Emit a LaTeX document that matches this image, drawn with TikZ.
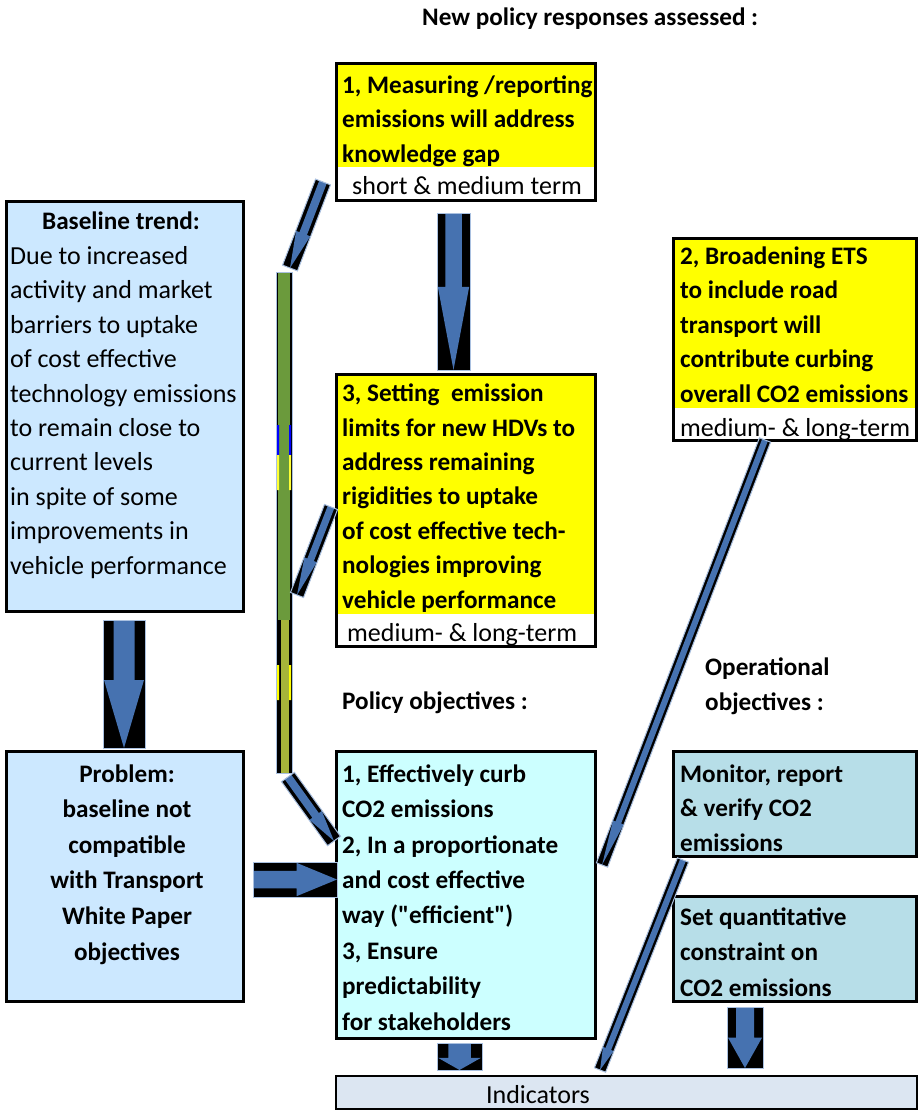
\documentclass[tikz,border=0pt]{standalone}
\usepackage{fontspec}
\setmainfont{Carlito}[Ligatures=TeXOff]
\usetikzlibrary{calc}
\definecolor{ylw}{HTML}{FFFF00}
\definecolor{baseblue}{HTML}{CCE8FF}
\definecolor{objcyan}{HTML}{CCFFFF}
\definecolor{opblue}{HTML}{B7DEE8}
\definecolor{indgrey}{HTML}{DCE6F2}
\definecolor{arrowblue}{HTML}{4672B0}
\definecolor{arrowedge}{HTML}{A9C0E0}
\definecolor{bargreen}{HTML}{6B9A3C}
\definecolor{baryellow}{HTML}{A6B43A}
\definecolor{barblue}{HTML}{0000FF}
\tikzset{
  box/.style={draw=black, line width=3pt, inner sep=0pt, anchor=north west},
  txt/.style={font=\fontsize{26}{34.4}\selectfont, inner sep=0pt, align=left, anchor=base west},
  btxt/.style={txt, font=\fontsize{25.2}{34.4}\selectfont\bfseries},
}
% block arrow: from, to, half width, start of head (fraction)
\newcommand{\blockarrow}[4]{%
  \path let \p1=#1, \p2=#2 in \pgfextra{%
    \pgfmathsetmacro\barang{atan2(\y2-\y1,\x2-\x1)}%
    \pgfmathsetmacro\barlen{veclen(\x2-\x1,\y2-\y1)}%
    \xdef\barang{\barang}\xdef\barlen{\barlen}};
  \begin{scope}[shift={#1},rotate=\barang]
    \fill[black] (0pt,-#3pt) rectangle (\barlen pt,#3pt);
    \fill[arrowblue] (0pt,{-0.5*#3pt}) -- ({#4*\barlen pt},{-0.5*#3pt}) -- ({#4*\barlen pt},{-0.95*#3pt})
      -- (\barlen pt,0pt) -- ({#4*\barlen pt},{0.95*#3pt}) -- ({#4*\barlen pt},{0.5*#3pt}) -- (0pt,{0.5*#3pt}) -- cycle;
    \draw[arrowedge,line width=1pt] (0pt,-#3pt) rectangle (\barlen pt,#3pt);
  \end{scope}}
\begin{document}
\begin{tikzpicture}[x=1pt,y=-1pt]
\useasboundingbox[fill=white] (0,0) rectangle (921,1113);
% boxes
\node[box, fill=baseblue, minimum width=237, minimum height=410] (base) at (5,200) {};
\node[box, fill=white, minimum width=259, minimum height=137] (m1) at (335,62) {};
\node[box, fill=white, minimum width=243, minimum height=202] (m2) at (672,237) {};
\node[box, fill=white, minimum width=259, minimum height=272] (m3) at (335,373) {};
\fill[ylw] (338,65) rectangle (594,167);
\fill[ylw] (675,240) rectangle (915,408);
\fill[ylw] (338,376) rectangle (594,614);
\node[box, fill=baseblue, minimum width=237, minimum height=250] (prob) at (5,750) {};
\node[box, fill=objcyan, minimum width=259, minimum height=287] (pobj) at (335,750) {};
\node[box, fill=opblue, minimum width=243, minimum height=105] (mon) at (672,750) {};
\node[box, fill=opblue, minimum width=243, minimum height=105] (setq) at (672,895) {};
\node[box, fill=indgrey, line width=2pt, minimum width=581, minimum height=33] (ind) at (335,1075) {};
% texts (multi-line nodes sit on the baseline of their last line)
\node[btxt] (title) at (422,26) {New policy responses assessed :};
\node[btxt, anchor=base] (basehead) at (121,229) {Baseline trend:};
\node[txt] (basetxt) at (10,574) {Due to increased\\activity and market\\barriers to uptake\\of cost effective\\technology emissions\\to remain close to\\current levels\\in spite of some\\improvements in\\vehicle performance};
\node[btxt] (m1txt) at (342,162) {1, Measuring /reporting\\emissions will address\\knowledge gap};
\node[txt] (m1term) at (352,194) {short \& medium term};
\node[btxt] (m2txt) at (680,402) {2, Broadening ETS\\to include road\\transport will\\contribute curbing\\overall CO2 emissions};
\node[txt] (m2term) at (680,436) {medium- \& long-term};
\node[btxt] (m3txt) at (342,608) {3, Setting\ \ emission\\limits for new HDVs to\\address remaining\\rigidities to uptake\\of cost effective tech-\\nologies improving\\vehicle performance};
\node[txt] (m3term) at (347,641) {medium- \& long-term};
\node[btxt] (polhead) at (342,709) {Policy objectives :};
\node[btxt] (ophead) at (705,710) {Operational\\objectives :};
\node[btxt, align=center, anchor=base, font=\fontsize{25.2}{35.6}\selectfont\bfseries] (probtxt) at (127,960) {Problem:\\baseline not\\compatible\\with Transport\\White Paper\\objectives};
\node[btxt, font=\fontsize{25.2}{35.4}\selectfont\bfseries] (pobjtxt) at (342,1030) {1, Effectively curb\\CO2 emissions\\2, In a proportionate\\and cost effective\\way ("efficient")\\3, Ensure\\predictability\\for stakeholders};
\node[btxt] (montxt) at (680,851) {Monitor, report\\\& verify CO2\\emissions};
\node[btxt, font=\fontsize{25.2}{35.5}\selectfont\bfseries] (setqtxt) at (680,996) {Set quantitative\\constraint on\\CO2 emissions};
\node[txt, anchor=base] (indtxt) at (538,1103) {Indicators};
% long vertical bar
\fill[black] (276,272) rectangle (292,773);
\fill[bargreen] (278,272) rectangle (290,620);
\fill[barblue] (277,425) rectangle (279,455) (289,425) rectangle (291,455);
\fill[ylw!80!white] (277,455) rectangle (279,490) (289,455) rectangle (291,490);
\fill[baryellow] (281,620) rectangle (289,773);
\fill[ylw] (277,665) rectangle (279,700) (289,665) rectangle (291,700);
\draw[arrowedge, line width=1pt] (276,272) rectangle (292,773);
% connectors
\coordinate (a1s) at (453.5,213); \coordinate (a1e) at (453.5,370);
\coordinate (a2s) at (124,620);   \coordinate (a2e) at (124,748);
\coordinate (a3s) at (253,879.5); \coordinate (a3e) at (337,879.5);
\coordinate (a4s) at (459.5,1043);\coordinate (a4e) at (459.5,1070);
\coordinate (a5s) at (745,1007);  \coordinate (a5e) at (745,1068);
\coordinate (a6s) at (765,440);   \coordinate (a6e) at (602,865);
\coordinate (a7s) at (683,860);   \coordinate (a7e) at (600,1070);
\coordinate (a8s) at (323,182);   \coordinate (a8e) at (290,268);
\coordinate (a9s) at (331,507);   \coordinate (a9e) at (297,595);
\coordinate (a10s) at (288,777);  \coordinate (a10e) at (334,841);
\blockarrow{(a1s)}{(a1e)}{16.5}{0.47}
\blockarrow{(a2s)}{(a2e)}{21}{0.47}
\blockarrow{(a3s)}{(a3e)}{17.5}{0.52}
\blockarrow{(a4s)}{(a4e)}{22.5}{0.55}
\blockarrow{(a5s)}{(a5e)}{18}{0.5}
\blockarrow{(a6s)}{(a6e)}{6}{0.9}
\blockarrow{(a7s)}{(a7e)}{6}{0.9}
\blockarrow{(a8s)}{(a8e)}{8}{0.6}
\blockarrow{(a9s)}{(a9e)}{7}{0.6}
\blockarrow{(a10s)}{(a10e)}{8}{0.6}
\end{tikzpicture}
\end{document}
